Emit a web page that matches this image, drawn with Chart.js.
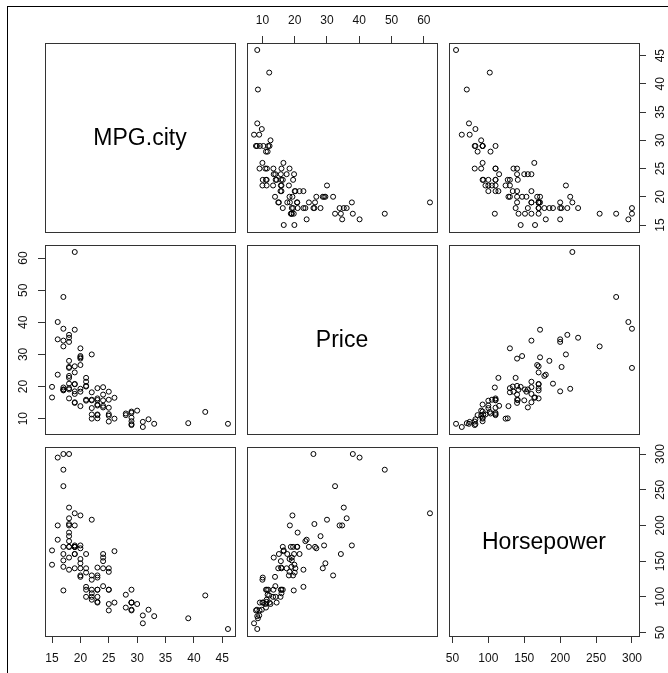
<!DOCTYPE html>
<html>
<head>
<meta charset="utf-8">
<script src="https://cdn.jsdelivr.net/npm/chart.js@4.4.1/dist/chart.umd.min.js"></script>
<style>
  body { margin: 0; background: #fff; width: 668px; height: 673px; position: relative; overflow: hidden;
         font-family: "Liberation Sans", Arial, sans-serif; }
  .frame { position: absolute; left: 7px; top: 6px; right: 0; bottom: 0;
           border-top: 1px solid #000; border-left: 1px solid #000; }
  canvas { position: absolute; }
  .diag { position: absolute; display: flex; align-items: center; justify-content: center;
          font-size: 23px; color: #000; }
</style>
</head>
<body>
<div class="frame"></div>
<script>
// Cars93: MPG.city, Price, Horsepower
const varNames = ["MPG.city", "Price", "Horsepower"];

const mpgCity = [25,18,20,19,22,22,19,16,19,16, 16,25,25,19,21,18,15,17,17,20,
  23,20,29,23,22,17,21,18,29,20, 31,23,22,22,24,15,21,18,46,30,
  24,42,24,29,22,26,20,17,18,18, 17,18,29,28,26,18,17,20,19,23,
  19,29,18,29,24,17,21,24,23,18, 19,23,31,23,19,19,19,20,28,33,
  25,23,39,32,25,22,18,25,17,21, 18,21,20];

const price = [15.9,33.9,29.1,37.7,30.0,15.7,20.8,23.7,26.3,34.7, 40.1,13.4,11.4,15.1,15.9,16.3,16.6,18.8,38.0,18.4,
  15.8,29.5,9.2,11.3,13.3,19.0,15.6,25.8,12.2,19.3, 7.4,10.1,11.3,15.9,14.0,19.9,20.2,20.9,8.4,12.5,
  19.8,12.1,17.5,8.0,10.0,10.0,13.9,47.9,28.0,35.2, 34.3,36.1,8.3,11.6,16.5,19.1,32.5,31.9,61.9,14.1,
  14.9,10.3,26.1,11.8,15.7,19.1,21.5,13.5,16.3,19.5, 20.7,14.4,9.0,11.1,17.7,18.5,24.4,28.7,11.1,8.4,
  10.9,19.5,8.6,9.8,18.4,18.2,22.7,9.1,19.7,20.0, 23.3,22.7,26.7];

const horsepower = [140,200,172,172,208,110,170,180,170,200, 295,110,110,160,110,170,165,170,300,153,
  141,147,92,93,100,142,100,300,92,214, 63,127,96,105,115,145,140,190,55,90,
  160,102,140,81,124,92,128,278,185,225, 160,210,82,103,164,155,255,130,217,100,
  140,92,202,110,150,151,160,155,110,170, 170,92,74,110,160,200,170,140,85,73,
  90,130,70,82,135,130,138,81,109,134, 178,114,168];

const mpgTicks = [15,20,25,30,35,40,45];
const priceTicks = [10,20,30,40,50,60];
const hpTicks = [50,100,150,200,250,300];

const columns = [mpgCity, price, horsepower];
const tickSets = [mpgTicks, priceTicks, hpTicks];

// layout (pixels)
const PANEL_X = [45, 247, 449];
const PANEL_Y = [43, 245, 447];
const PW = 190, PH = 189, M = 30;
const FONT = "'Liberation Sans', Arial, sans-serif";
const yLabelPad = [8, 8, 5];   // keeps rotated labels ~21px off the box

// R style range: data range stretched by 4%
function rRange(vals) {
  const lo = Math.min(...vals), hi = Math.max(...vals);
  const d = (hi - lo) * 0.04;
  return [lo - d, hi + d];
}

const boxPlugin = {
  id: 'panelBox',
  afterDraw(chart) {
    const {ctx, chartArea: a} = chart;
    ctx.save();
    ctx.strokeStyle = '#333';
    ctx.lineWidth = 1;
    ctx.strokeRect(Math.round(a.left) + 0.5, Math.round(a.top) + 0.5,
                   Math.round(a.right - a.left), Math.round(a.bottom - a.top));
    ctx.restore();
  }
};

function axis(k, pos, isX) {
  const [lo, hi] = rRange(columns[k]);
  return {
    type: 'linear',
    position: pos || (isX ? 'bottom' : 'left'),
    display: !!pos,
    min: lo,
    max: hi,
    afterBuildTicks: s => { s.ticks = tickSets[k].map(v => ({value: v})); },
    afterFit: s => { if (pos) { if (isX) s.height = M; else s.width = M; } },
    grid: { drawOnChartArea: false, drawTicks: true, tickLength: 7, color: '#333', lineWidth: 1 },
    border: { display: false },
    ticks: {
      autoSkip: false,
      color: '#111',
      font: { family: FONT, size: 12 },
      padding: isX ? (pos === 'top' ? 8 : 8.5) : yLabelPad[k],
      minRotation: isX ? 0 : 90,
      maxRotation: isX ? 0 : 90,
      crossAlign: isX ? 'near' : 'center'
    }
  };
}

function makePanel(i, j) {
  const canvas = document.createElement('canvas');
  canvas.width = PW + 2 * M;
  canvas.height = PH + 2 * M;
  canvas.style.left = (PANEL_X[j] - M) + 'px';
  canvas.style.top = (PANEL_Y[i] - M) + 'px';
  document.body.appendChild(canvas);

  // pairs(): top axis on col 2, bottom on cols 1,3, left on row 2, right on rows 1,3
  let xPos = null, yPos = null;
  if (i === 0 && j === 1) xPos = 'top';
  if (i === 2 && j !== 1) xPos = 'bottom';
  if (j === 0 && i === 1) yPos = 'left';
  if (j === 2 && i !== 1) yPos = 'right';

  const pts = [];
  if (i !== j) {
    for (let n = 0; n < columns[j].length; n++) pts.push({x: columns[j][n], y: columns[i][n]});
  }

  new Chart(canvas, {
    type: 'scatter',
    data: {
      datasets: [{
        data: pts,
        pointStyle: 'circle',
        pointRadius: 2.5,
        borderWidth: 1,
        borderColor: '#000',
        backgroundColor: 'rgba(0,0,0,0)'
      }]
    },
    options: {
      responsive: false,
      animation: false,
      devicePixelRatio: 1,
      events: [],
      layout: {
        padding: {
          top: xPos === 'top' ? 0 : M,
          bottom: xPos === 'bottom' ? 0 : M,
          left: yPos === 'left' ? 0 : M,
          right: yPos === 'right' ? 0 : M
        }
      },
      scales: {
        x: axis(j, xPos, true),
        y: axis(i, yPos, false)
      },
      plugins: { legend: { display: false }, tooltip: { enabled: false } }
    },
    plugins: [boxPlugin]
  });

  if (i === j) {
    const d = document.createElement('div');
    d.className = 'diag';
    d.style.left = PANEL_X[j] + 'px';
    d.style.top = PANEL_Y[i] + 'px';
    d.style.width = PW + 'px';
    d.style.height = PH + 'px';
    d.textContent = varNames[i];
    document.body.appendChild(d);
  }
}

for (let i = 0; i < 3; i++) {
  for (let j = 0; j < 3; j++) makePanel(i, j);
}
</script>
</body>
</html>
